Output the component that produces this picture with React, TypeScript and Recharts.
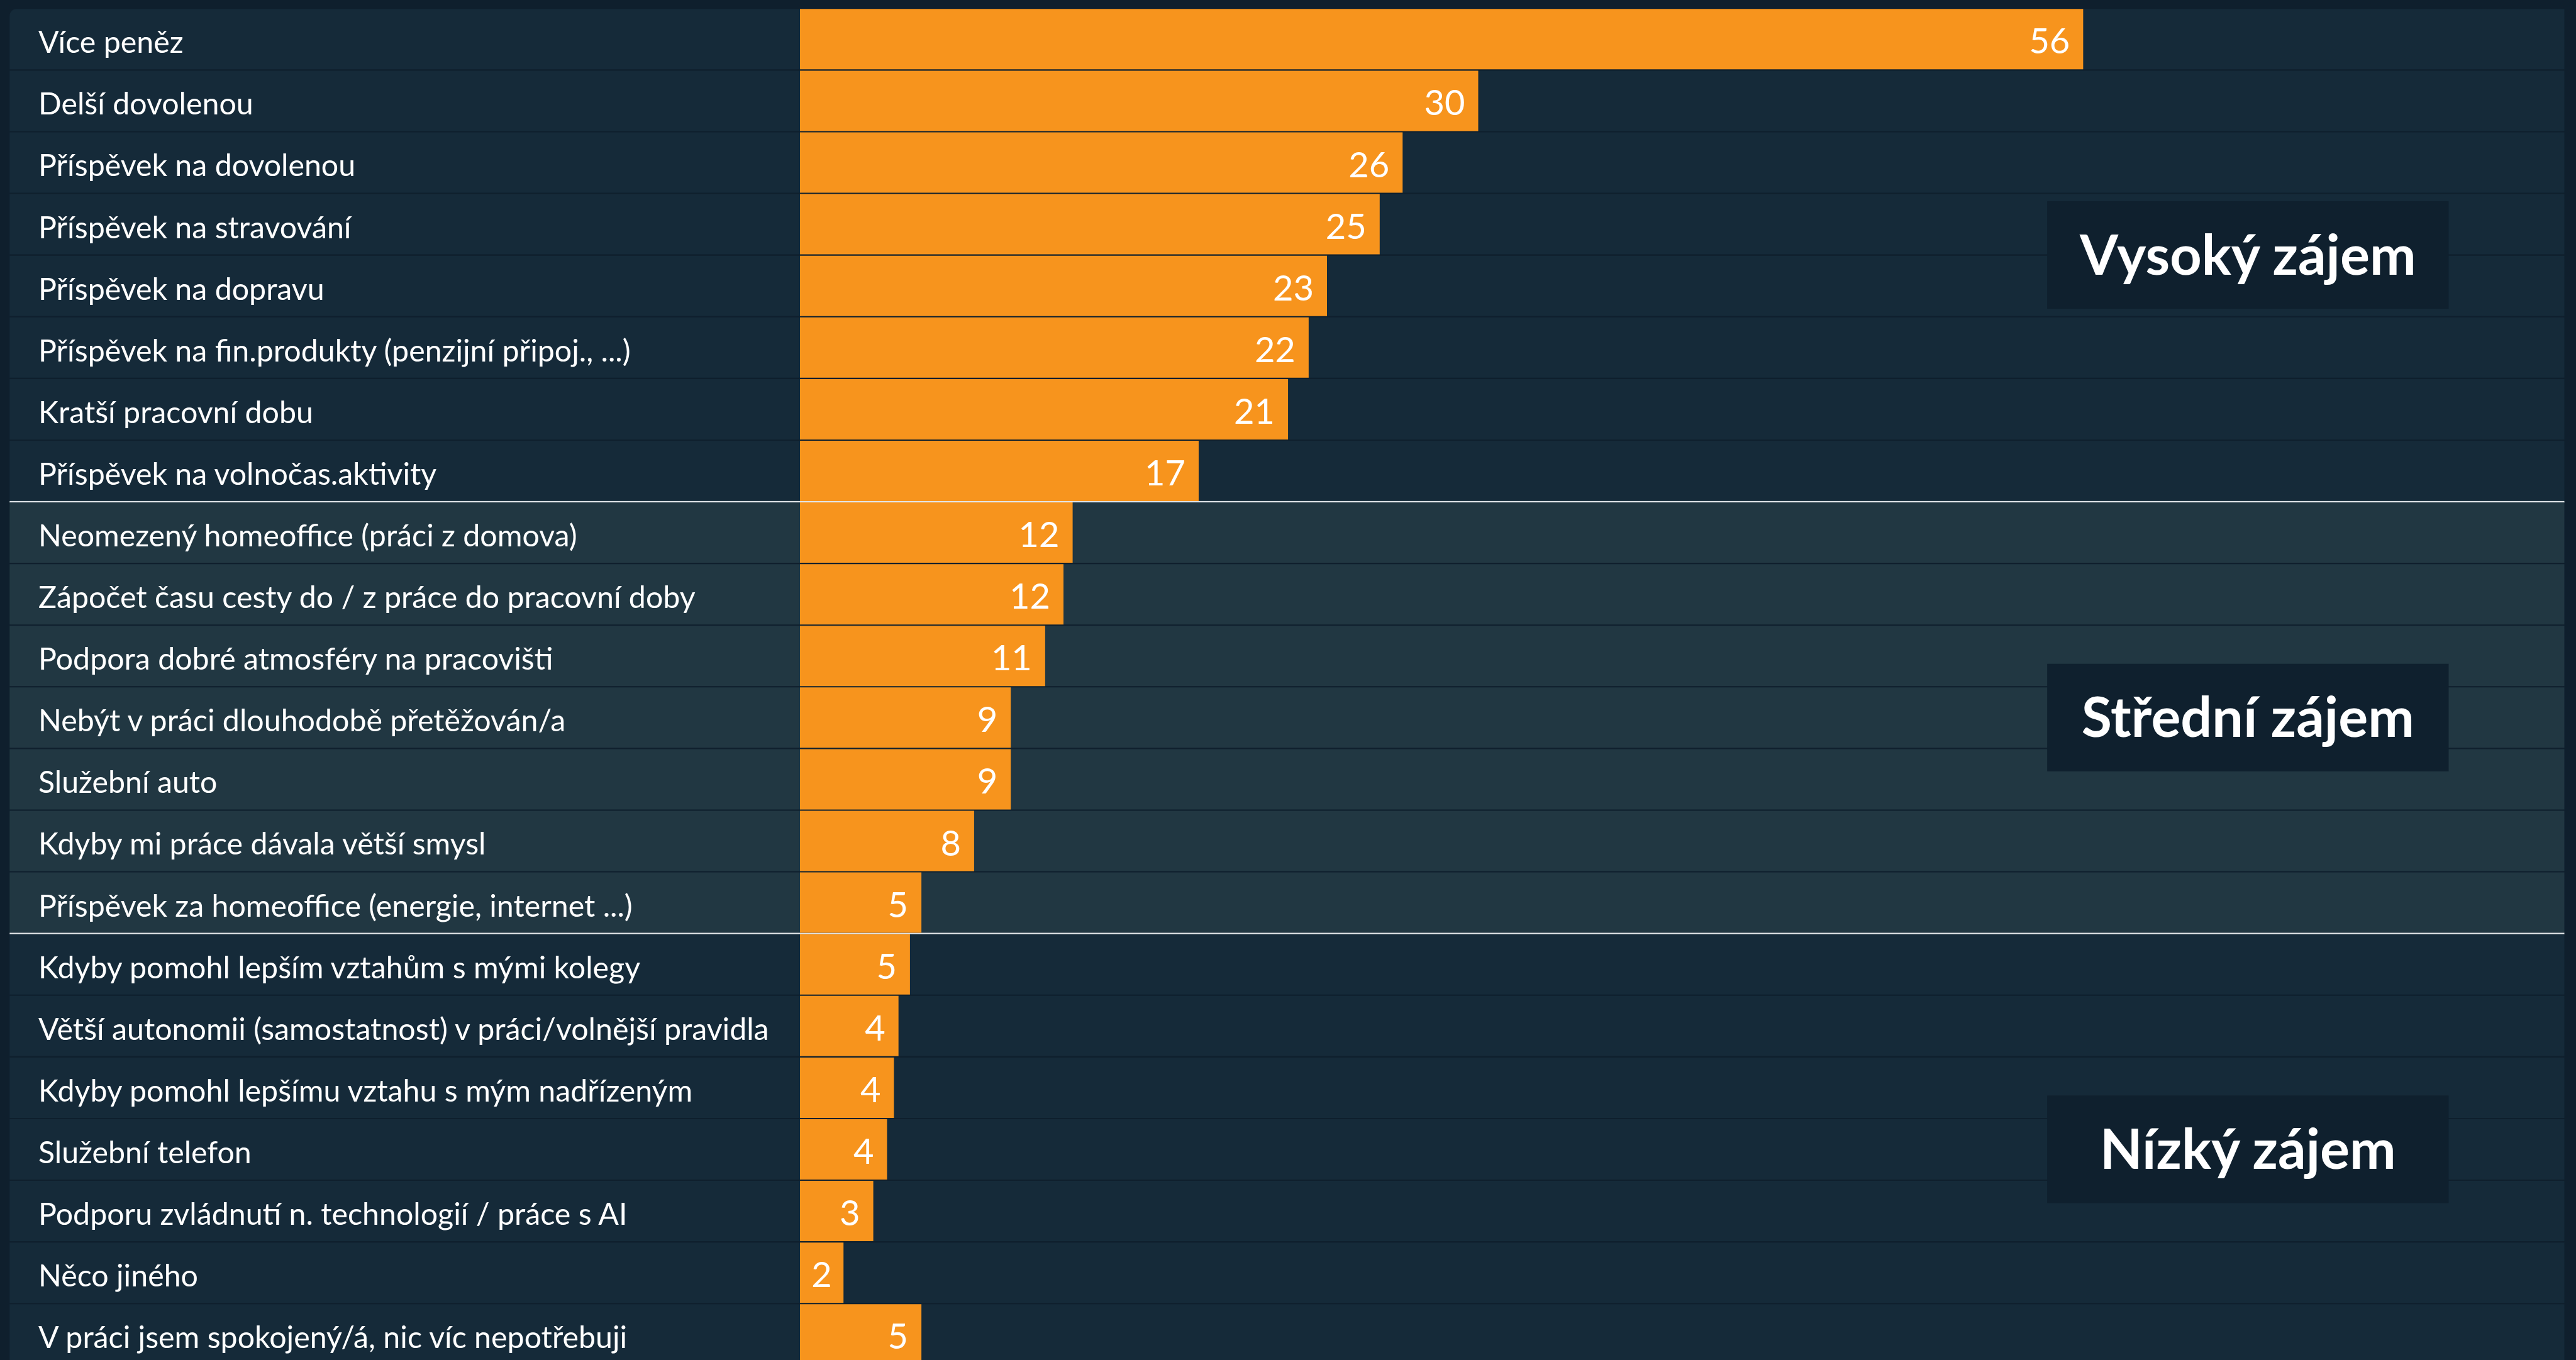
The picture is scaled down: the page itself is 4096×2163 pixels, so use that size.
import React from 'react';
import { BarChart, Bar, XAxis, YAxis, LabelList, ReferenceArea, Rectangle } from 'recharts';

// survey answers, top to bottom
const categories = [
  'Více peněz',
  'Delší dovolenou',
  'Příspěvek na dovolenou',
  'Příspěvek na stravování',
  'Příspěvek na dopravu',
  'Příspěvek na fin.produkty (penzijní připoj., ...)',
  'Kratší pracovní dobu',
  'Příspěvek na volnočas.aktivity',
  'Neomezený homeoffice (práci z domova)',
  'Zápočet času cesty do / z práce do pracovní doby',
  'Podpora dobré atmosféry na pracovišti',
  'Nebýt v práci dlouhodobě přetěžován/a',
  'Služební auto',
  'Kdyby mi práce dávala větší smysl',
  'Příspěvek za homeoffice (energie, internet ...)',
  'Kdyby pomohl lepším vztahům s mými kolegy',
  'Větší autonomii (samostatnost) v práci/volnější pravidla',
  'Kdyby pomohl lepšímu vztahu s mým nadřízeným',
  'Služební telefon',
  'Podporu zvládnutí n. technologií / práce s AI',
  'Něco jiného',
  'V práci jsem spokojený/á, nic víc nepotřebuji',
];

// percent of respondents (labels show rounded value)
const values = [
  56, 29.6, 26.3, 25.3, 23.0, 22.2, 21.3, 17.4,
  11.9, 11.5, 10.7, 9.2, 9.2, 7.6, 5.3,
  4.8, 4.3, 4.1, 3.8, 3.2, 1.9, 5.3,
];

const groupTitles = ['Vysoký zájem', 'Střední zájem', 'Nízký zájem'];
const groupFirst = [0, 8, 15];
const groupLast = [7, 14, 21];

const data = categories.map((name, i) => ({ name, value: values[i] }));

const PAGE_BG = '#0f1f2d';
const ROW_BG = '#152a39';
const MID_BG = '#213742';
const BOX_BG = '#0f202e';
const ORANGE = '#f7941d';
const LINE_WHITE = '#e3e7ea';

const FONT = 'Lato, "Noto Sans", sans-serif';
const PANEL_LEFT = 15.3;
const LABEL_W = 1256.7;
const LABEL_X = 61;
const ROW_GAP = 2.3;
const VALUE_FONT = 56;
const VALUE_PAD = 21;
const BOX_H = 171;

const isMid = (i: number) => i >= groupFirst[1] && i <= groupLast[1];

const RowBackground = (p: any) => {
  const x = PANEL_LEFT;
  const w = p.x + p.width - PANEL_LEFT;
  const fill = isMid(p.index) ? MID_BG : ROW_BG;
  const sectionEnd = p.index === groupLast[0] || p.index === groupLast[1];
  return (
    <g>
      <Rectangle x={x} y={p.y} width={w} height={p.height} fill={fill}
        radius={p.index === 0 ? [11, 0, 0, 0] : 0} />
      {sectionEnd && (
        <rect x={x} y={p.y + p.height - 0.1} width={w} height={ROW_GAP + 0.2} fill={LINE_WHITE} />
      )}
    </g>
  );
};

const CategoryTick = (p: any) => (
  <text x={LABEL_X} y={p.y + 22} fill="#ffffff" fontFamily={FONT} fontSize={48.3} textAnchor="start">
    {p.payload.value}
  </text>
);

const ValueLabel = (p: any) => {
  const vb = p.viewBox || {};
  const x = p.x ?? vb.x;
  const y = p.y ?? vb.y;
  const width = p.width ?? vb.width;
  const height = p.height ?? vb.height;
  const text = String(Math.round(Number(p.value)));
  const tw = text.length * VALUE_FONT * 0.56;
  const fits = width >= tw + 2 * VALUE_PAD;
  return (
    <text x={fits ? x + width - VALUE_PAD : x + width / 2} y={y + height / 2 + 23}
      textAnchor={fits ? 'end' : 'middle'} fill="#ffffff" fontFamily={FONT} fontSize={VALUE_FONT}>
      {text}
    </text>
  );
};

const groupBox = (title: string) => (p: any) => {
  const cy = p.y + p.height / 2;
  return (
    <g>
      <rect x={p.x} y={cy - BOX_H / 2} width={p.width} height={BOX_H} fill={BOX_BG} />
      <text x={p.x + p.width / 2} y={cy + 31} textAnchor="middle" fill="#ffffff"
        fontFamily={FONT} fontWeight={700} fontSize={88}>
        {title}
      </text>
    </g>
  );
};

export default function App() {
  return (
    <div style={{ position: 'fixed', left: 0, top: 0, width: 4096, height: 2163, overflow: 'hidden', background: PAGE_BG }}>
      <BarChart width={4096} height={2172} data={data} layout="vertical"
        margin={{ top: 13.2, right: 18.5, bottom: 0.8, left: PANEL_LEFT }}
        barCategoryGap={ROW_GAP / 2}>
        <XAxis type="number" domain={[0, 77]} hide />
        <YAxis type="category" dataKey="name" width={LABEL_W} axisLine={false} tickLine={false}
          interval={0} tick={<CategoryTick />} />
        <Bar dataKey="value" fill={ORANGE} isAnimationActive={false} background={RowBackground}>
          <LabelList dataKey="value" content={<ValueLabel />} />
        </Bar>
        {groupTitles.map((t, g) => (
          <ReferenceArea key={t} x1={54.43} x2={71.95}
            y1={categories[groupFirst[g]]} y2={categories[groupLast[g]]}
            ifOverflow="visible" shape={groupBox(t)} />
        ))}
      </BarChart>
    </div>
  );
}
